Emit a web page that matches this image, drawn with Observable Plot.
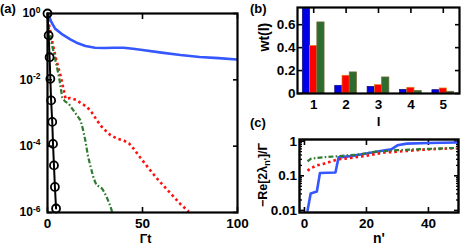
<!DOCTYPE html>
<html><head><meta charset="utf-8">
<script src="https://cdn.jsdelivr.net/npm/d3@7"></script>
<script src="https://cdn.jsdelivr.net/npm/@observablehq/plot@0.6"></script>
<style>
body{margin:0;background:#fff;}
#root{position:relative;width:463px;height:245px;overflow:hidden;}
#root svg{position:absolute;}
</style></head><body><div id="root"></div>
<script>
// ---------- Panel (a): decay vs Γt ----------
const tBlueA = [0, 1, 2, 4, 8, 12, 16, 20, 25, 30, 35, 40, 45, 50, 60, 70, 80, 90, 100];
const yBlueA = [1, 0.79, 0.56, 0.35, 0.23, 0.166, 0.126, 0.105, 0.093, 0.091, 0.093, 0.093, 0.087, 0.079, 0.066, 0.056, 0.049, 0.045, 0.041];
const tRedA = [0, 1, 2.7, 4.5, 7.1, 9.5, 12, 15, 18, 20.9, 23.5, 26, 29, 33.2, 37, 40.2, 43, 45.4, 48, 50.7, 54, 57.7, 62, 66.5, 70, 74.4];
const yRedA = [1, 0.398, 0.123, 0.0427, 0.012, 0.00269, 0.00282, 0.00251, 0.00191, 0.00151, 0.001, 6.0e-4, 3.55e-4, 2.14e-4, 1.66e-4, 1.48e-4, 1.2e-4, 8.3e-5, 5.2e-5, 3.3e-5, 1.9e-5, 1.05e-5, 5.6e-6, 2.95e-6, 1.78e-6, 1.05e-6];
const tGreenA = [0, 0.9, 3.4, 6.1, 7.7, 9.2, 11.2, 14, 17.4, 18.7, 20, 21.3, 22.6, 24.2, 25.8, 27.3, 28.8, 30, 31.4, 33, 34];
const yGreenA = [1, 0.251, 0.063, 0.012, 0.0030, 0.00224, 0.0019, 0.00112, 6.0e-4, 3.16e-4, 1.41e-4, 5.0e-5, 2.5e-5, 1.12e-5, 6.6e-6, 6.0e-6, 5.2e-6, 4.0e-6, 2.7e-6, 1.6e-6, 1.05e-6];
const tBlackA = [0, 0.6, 1.1, 1.5, 1.9, 2.5, 2.9, 3.4, 3.9, 4.5];
const yBlackA = [1, 0.219, 0.0479, 0.0107, 0.0024, 5.4e-4, 1.17e-4, 2.63e-5, 5.9e-6, 1.32e-6];
const xTicksA = [0, 50, 100];
const yTicksA = [1, 1e-2, 1e-4, 1e-6];
const yExpA = ["0", "-2", "-4", "-6"];

// ---------- Panel (b): weights wt(l) ----------
const ls = [1, 2, 3, 4, 5];
const wtBlue = [0.74, 0.067, 0.058, 0.032, 0.029];
const wtRed = [0.415, 0.155, 0.073, 0.05, 0.044];
const wtGreen = [0.62, 0.184, 0.14, 0.023, 0.015];
const yTicksB = [0, 0.2, 0.4, 0.6];
const yTickLabelsB = ["0", "0.2", "0.4", "0.6"];

// ---------- Panel (c): -Re[2λ_n']/Γ vs n' ----------
const nBlueC = [1, 2, 4, 5, 10, 11, 15, 20, 25, 28, 30, 33, 40, 49];
const yBlueC = [0.01, 0.031, 0.035, 0.12, 0.125, 0.34, 0.37, 0.44, 0.53, 0.58, 0.76, 0.85, 0.89, 0.92];
const nRedC = [1, 2, 4, 6, 8, 11, 14, 17, 20, 23, 26, 30, 35, 40, 45, 49];
const yRedC = [0.14, 0.165, 0.2, 0.22, 0.25, 0.3, 0.32, 0.35, 0.38, 0.43, 0.47, 0.5, 0.54, 0.58, 0.61, 0.63];
const nGreenC = [1, 2, 4, 7, 11, 14, 17, 20, 23, 26, 30, 35, 40, 45, 49];
const yGreenC = [0.26, 0.31, 0.33, 0.35, 0.37, 0.39, 0.41, 0.45, 0.5, 0.52, 0.55, 0.58, 0.6, 0.62, 0.64];
const xTicksC = [0, 20, 40];
const yTicksC = [0.01, 0.1, 1];
const yTickLabelsC = ["0.01", "0.1", "1"];
const yMinorC = [0.02, 0.03, 0.04, 0.05, 0.06, 0.07, 0.08, 0.09, 0.2, 0.3, 0.4, 0.5, 0.6, 0.7, 0.8, 0.9];

// ---------- styles ----------
const BLUE = "#3457ff", RED = "#ff1010", GREEN = "#2f7a2f";
const style = {fontFamily: '"Liberation Sans", Arial, sans-serif', fontWeight: "bold", fontSize: "13px", color: "#000", background: "transparent", overflow: "visible"};
const pts = (xs, ys) => xs.map((x, i) => ({x, y: ys[i]}));
const blueLine = {stroke: BLUE, strokeWidth: 2.6};
const redLine = {stroke: RED, strokeWidth: 2.6, strokeDasharray: "2.6,3", strokeLinecap: "butt"};
const greenLine = {stroke: GREEN, strokeWidth: 2.2, strokeDasharray: "5,2.2,1.6,2.2", strokeLinecap: "butt"};
const root = document.getElementById("root");
const place = (svg, left, top) => { svg.style.left = left + "px"; svg.style.top = top + "px"; root.appendChild(svg); };
const blank = () => "";
// inward ticks: Plot offsets labels by tickSize + tickPadding, so add the tick length back
const TK = 5;
const pad = gap => gap + TK;

// Panel (a)
const A = Plot.plot({
  width: 250, height: 245, marginLeft: 47, marginTop: 13, marginRight: 13, marginBottom: 33,
  style,
  x: {domain: [0, 100]},
  y: {type: "log", domain: [1e-6, 1]},
  marks: [
    Plot.axisX({anchor: "bottom", ticks: xTicksA, tickSize: -TK, tickPadding: pad(6), fontSize: 13.5, strokeWidth: 1.6, tickFormat: d => String(d), label: null}),
    Plot.axisX({anchor: "top", ticks: xTicksA, tickSize: -TK, tickFormat: blank, strokeWidth: 1.6, label: null}),
    Plot.axisY({anchor: "left", ticks: yTicksA, tickSize: -TK, tickPadding: pad(7), fontSize: 12, strokeWidth: 1.6,
      tickFormat: d => "10^" + yExpA[yTicksA.indexOf(d)], label: null}),
    Plot.axisY({anchor: "right", ticks: yTicksA, tickSize: -TK, tickFormat: blank, strokeWidth: 1.6, label: null}),
    Plot.line(pts(tBlueA, yBlueA), {x: "x", y: "y", clip: true, ...blueLine}),
    Plot.line(pts(tRedA, yRedA), {x: "x", y: "y", clip: true, ...redLine}),
    Plot.line(pts(tGreenA, yGreenA), {x: "x", y: "y", clip: true, ...greenLine}),
    Plot.line(pts(tBlackA, yBlackA), {x: "x", y: "y", stroke: "#000", strokeWidth: 2}),
    Plot.dot(pts(tBlackA, yBlackA), {x: "x", y: "y", r: 4, stroke: "#000", strokeWidth: 1.8, fill: "none"}),
    Plot.frame({stroke: "#000", strokeWidth: 2.2}),
    Plot.text(["Γt"], {frameAnchor: "bottom", dy: 30.3, dx: 3, lineAnchor: "bottom", fontSize: 12.5})
  ]
});
place(A, 0, 0);
// superscript exponents for the log tick labels
A.querySelectorAll('g[aria-label="y-axis tick label"] text').forEach(t => {
  const s = t.textContent;
  if (!s.includes("^")) return;
  const [b, e] = s.split("^");
  t.textContent = "";
  const ns = "http://www.w3.org/2000/svg";
  const t1 = document.createElementNS(ns, "tspan"); t1.textContent = b;
  const t2 = document.createElementNS(ns, "tspan"); t2.textContent = e;
  t2.setAttribute("dy", "-0.55em"); t2.setAttribute("font-size", "8.5");
  t.append(t1, t2);
});

// Panel (b)
const barW = 0.224;
const seriesB = [{vals: wtBlue, fill: "#0000e6", stroke: "#101070"}, {vals: wtRed, fill: "#ff0000", stroke: "#e08a20"}, {vals: wtGreen, fill: "#2e6b2e", stroke: "#7a6a3a"}];
const barsB = seriesB.flatMap((s, k) => ls.map((l, i) => ({l, k, v: s.vals[i], fill: s.fill, stroke: s.stroke})));
const B = Plot.plot({
  width: 213, height: 125, marginLeft: 47, marginTop: 7, marginRight: 4, marginBottom: 32,
  style,
  x: {domain: [0.5, 5.5]},
  y: {domain: [0, 0.75]},
  marks: [
    Plot.axisX({anchor: "bottom", ticks: ls, tickSize: -TK, tickPadding: pad(6), fontSize: 13.5, strokeWidth: 1.6, tickFormat: d => String(d), label: null}),
    Plot.axisX({anchor: "top", ticks: ls, tickSize: -TK, tickFormat: blank, strokeWidth: 1.6, label: null}),
    Plot.axisY({anchor: "left", ticks: yTicksB, tickSize: -TK, tickPadding: pad(2), fontSize: 13.5, strokeWidth: 1.6,
      tickFormat: d => yTickLabelsB[yTicksB.indexOf(d)], label: null}),
    Plot.axisY({anchor: "right", ticks: yTicksB, tickSize: -TK, tickFormat: blank, strokeWidth: 1.6, label: null}),
    Plot.rectY(barsB, {x1: d => d.l - 1.5 * barW + d.k * barW, x2: d => d.l - 0.5 * barW + d.k * barW, y: "v",
      fill: d => d.fill, stroke: d => d.stroke, strokeWidth: 0.7}),
    Plot.frame({stroke: "#000", strokeWidth: 2.2}),
    Plot.text(["l"], {frameAnchor: "bottom", dy: 32, lineAnchor: "bottom", fontSize: 13.5}),
    Plot.text(["wt(l)"], {frameAnchor: "left", dx: -29, dy: 1, rotate: -90, lineAnchor: "bottom", fontSize: 14})
  ]
});
place(B, 250, 0);

// Panel (c)
const C = Plot.plot({
  width: 213, height: 123, marginLeft: 49, marginTop: 17, marginRight: 5, marginBottom: 33,
  style,
  x: {domain: [-1.6, 49.7]},
  y: {type: "log", domain: [0.0087, 1.12]},
  marks: [
    Plot.axisX({anchor: "bottom", ticks: xTicksC, tickSize: -TK, tickPadding: pad(6), fontSize: 13.5, strokeWidth: 1.6, tickFormat: d => String(d), label: null}),
    Plot.axisX({anchor: "top", ticks: xTicksC, tickSize: -TK, tickFormat: blank, strokeWidth: 1.6, label: null}),
    Plot.axisY({anchor: "left", ticks: yTicksC, tickSize: -TK, tickPadding: pad(2.5), fontSize: 13.5, strokeWidth: 1.6,
      tickFormat: d => yTickLabelsC[yTicksC.indexOf(d)], label: null}),
    Plot.axisY({anchor: "right", ticks: yTicksC, tickSize: -TK, tickFormat: blank, strokeWidth: 1.6, label: null}),
    Plot.axisY({anchor: "left", ticks: yMinorC, tickSize: -3, tickFormat: blank, strokeWidth: 1.3, label: null}),
    Plot.axisY({anchor: "right", ticks: yMinorC, tickSize: -3, tickFormat: blank, strokeWidth: 1.3, label: null}),
    Plot.line(pts(nBlueC, yBlueC), {x: "x", y: "y", clip: true, ...blueLine}),
    Plot.line(pts(nRedC, yRedC), {x: "x", y: "y", clip: true, ...redLine}),
    Plot.line(pts(nGreenC, yGreenC), {x: "x", y: "y", clip: true, ...greenLine}),
    Plot.frame({stroke: "#000", strokeWidth: 2.4}),
    Plot.text(["n'"], {frameAnchor: "bottom", dy: 30, lineAnchor: "bottom", fontSize: 14})
  ]
});
place(C, 250, 122);

// Panel letters and the (c) y-axis title (with subscript)
const ov = document.createElementNS("http://www.w3.org/2000/svg", "svg");
ov.setAttribute("width", 463); ov.setAttribute("height", 245);
ov.style.left = "0px"; ov.style.top = "0px"; ov.style.pointerEvents = "none";
ov.setAttribute("font-family", '"Liberation Sans", Arial, sans-serif');
ov.setAttribute("font-weight", "bold");
ov.innerHTML = `
  <text x="0" y="13" font-size="13">(a)</text>
  <text x="250" y="13" font-size="13">(b)</text>
  <text x="250" y="127" font-size="13">(c)</text>
  <text transform="translate(267,175) rotate(-90)" text-anchor="middle" font-size="12.5">−Re[2λ<tspan dy="3" font-size="9">n'</tspan><tspan dy="-3">]/Γ</tspan></text>`;
root.appendChild(ov);
</script></body></html>
